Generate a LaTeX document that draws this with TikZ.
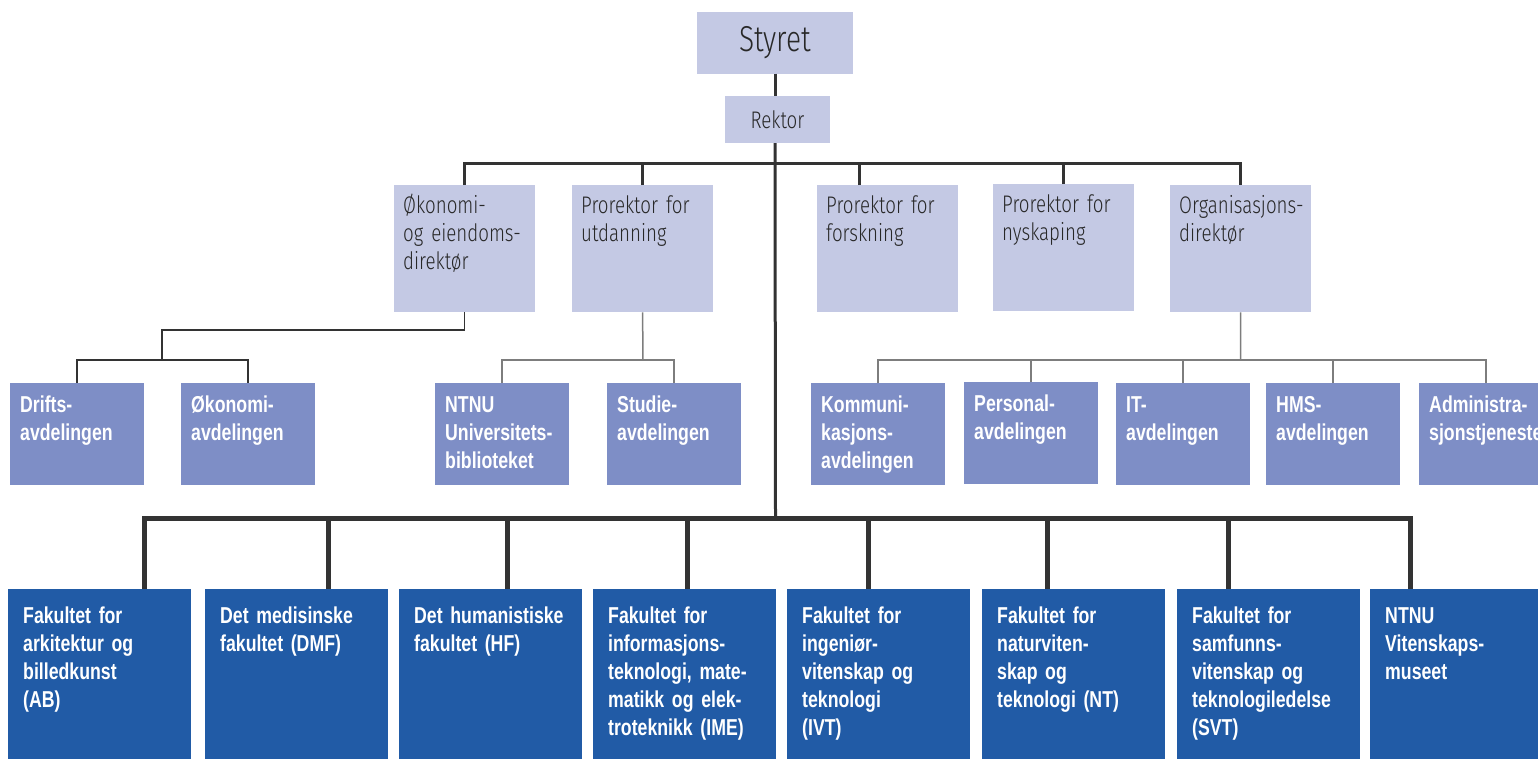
\documentclass[tikz,border=0pt]{standalone}
\usepackage{fontspec}
\setmainfont{Liberation Sans}
\newfontfamily\lightfont{Fira Sans Light}[FakeStretch=0.78]
\newfontfamily\boldfont{Liberation Sans Bold}[FakeStretch=0.77, WordSpace=0.75]
\definecolor{lightbox}{RGB}{196,201,228}
\definecolor{midbox}{RGB}{126,142,198}
\definecolor{darkbox}{RGB}{33,91,166}
\definecolor{linedark}{RGB}{51,51,51}
\definecolor{linegray}{RGB}{125,125,125}
\definecolor{txtdark}{RGB}{40,40,40}
\tikzset{
  lbox/.style={fill=lightbox, draw=none, inner sep=0pt, anchor=north west, minimum width=141pt, minimum height=127pt},
  mbox/.style={fill=midbox, draw=none, inner sep=0pt, anchor=north west, minimum width=134pt, minimum height=102pt},
  dbox/.style={fill=darkbox, draw=none, inner sep=0pt, anchor=north west, minimum width=183pt, minimum height=200pt},
  ltxt/.style={inner sep=0pt, anchor=base west, text width=200pt, align=left, text=txtdark, font=\lightfont\fontsize{24}{28}\selectfont},
  btxt/.style={inner sep=0pt, anchor=base west, text width=200pt, align=left, text=white, font=\boldfont\fontsize{23}{28}\selectfont},
  mainline/.style={draw=linedark, line width=3pt},
  busline/.style={draw=linedark, line width=5pt},
  subdark/.style={draw=linedark, line width=1.5pt},
  subgray/.style={draw=linegray, line width=1.5pt},
}
\begin{document}
\begin{tikzpicture}[x=1pt,y=-1pt]
\useasboundingbox (0,0) rectangle (1538,758);
\clip (0,0) rectangle (1538,758);
% top
\node[fill=lightbox, inner sep=0pt, minimum width=156pt, minimum height=62pt, text=txtdark, font=\lightfont\fontsize{36}{40}\selectfont] (styret) at (775,42.5) {Styret};
\node[fill=lightbox, inner sep=0pt, minimum width=105pt, minimum height=47pt, text=txtdark, font=\lightfont\fontsize{24}{28}\selectfont] (rektor) at (777.5,119.5) {Rektor};
% level 2
\node[lbox] (oko) at (394,185) {};
\node[lbox] (utd) at (572,185) {};
\node[lbox] (fors) at (817,185) {};
\node[lbox] (nysk) at (993,184) {};
\node[lbox] (org) at (1170,185) {};
\node[ltxt] (okot) at ([shift={(9,28)}]oko.north west) {Økonomi-\\og eiendoms-\\direktør};
\node[ltxt] (utdt) at ([shift={(9,28)}]utd.north west) {Prorektor for\\utdanning};
\node[ltxt] (forst) at ([shift={(9,28)}]fors.north west) {Prorektor for\\forskning};
\node[ltxt] (nyskt) at ([shift={(9,28)}]nysk.north west) {Prorektor for\\nyskaping};
\node[ltxt] (orgt) at ([shift={(9,28)}]org.north west) {Organisasjons-\\direktør};
% level 3
\node[mbox] (drift) at (10,383) {};
\node[mbox] (okoavd) at (181,383) {};
\node[mbox] (ub) at (435,383) {};
\node[mbox] (studie) at (607,383) {};
\node[mbox] (komm) at (811,383) {};
\node[mbox] (pers) at (964,382) {};
\node[mbox] (it) at (1116,383) {};
\node[mbox] (hms) at (1266,383) {};
\node[mbox] (adm) at (1419,383) {};
\node[btxt] (driftt) at ([shift={(10,29)}]drift.north west) {Drifts-\\avdelingen};
\node[btxt] (okoavdt) at ([shift={(10,29)}]okoavd.north west) {Økonomi-\\avdelingen};
\node[btxt] (ubt) at ([shift={(10,29)}]ub.north west) {NTNU\\Universitets-\\biblioteket};
\node[btxt] (studiet) at ([shift={(10,29)}]studie.north west) {Studie-\\avdelingen};
\node[btxt] (kommt) at ([shift={(10,29)}]komm.north west) {Kommuni-\\kasjons-\\avdelingen};
\node[btxt] (perst) at ([shift={(10,29)}]pers.north west) {Personal-\\avdelingen};
\node[btxt] (itt) at ([shift={(10,29)}]it.north west) {IT-\\avdelingen};
\node[btxt] (hmst) at ([shift={(10,29)}]hms.north west) {HMS-\\avdelingen};
\node[btxt] (admt) at ([shift={(10,29)}]adm.north west) {Administra-\\sjonstjenesten};
% faculties
\node[dbox] (f1) at (8,589) {};
\node[dbox] (f2) at (205,589) {};
\node[dbox] (f3) at (399,589) {};
\node[dbox] (f4) at (593,589) {};
\node[dbox] (f5) at (787,589) {};
\node[dbox] (f6) at (982,589) {};
\node[dbox] (f7) at (1177,589) {};
\node[dbox] (f8) at (1370,589) {};
\node[btxt] (f1t) at ([shift={(15,34)}]f1.north west) {Fakultet for\\arkitektur og\\billedkunst\\(AB)};
\node[btxt] (f2t) at ([shift={(15,34)}]f2.north west) {Det medisinske\\fakultet (DMF)};
\node[btxt] (f3t) at ([shift={(15,34)}]f3.north west) {Det humanistiske\\fakultet (HF)};
\node[btxt] (f4t) at ([shift={(15,34)}]f4.north west) {Fakultet for\\informasjons-\\teknologi, mate-\\matikk og elek-\\troteknikk (IME)};
\node[btxt] (f5t) at ([shift={(15,34)}]f5.north west) {Fakultet for\\ingeniør-\\vitenskap og\\teknologi\\(IVT)};
\node[btxt] (f6t) at ([shift={(15,34)}]f6.north west) {Fakultet for\\naturviten-\\skap og\\teknologi (NT)};
\node[btxt] (f7t) at ([shift={(15,34)}]f7.north west) {Fakultet for\\samfunns-\\vitenskap og\\teknologiledelse\\(SVT)};
\node[btxt] (f8t) at ([shift={(15,34)}]f8.north west) {NTNU\\Vitenskaps-\\museet};
% main connectors
\coordinate (topbus) at (775.5,163);
\coordinate (busmid) at (775.5,518);
\draw[mainline] (styret.south) -- (styret.south |- rektor.north);
\draw[mainline] (styret.south |- rektor.south) -- (busmid);
\draw[mainline] (oko.north) |- (topbus) -| (org.north);
\draw[mainline] (utd.north) -- (utd.north |- topbus);
\draw[mainline] ([xshift=-28.5pt]fors.north) -- ([xshift=-28.5pt]fors.north |- topbus);
\draw[mainline] (nysk.north) -- (nysk.north |- topbus);
% faculty bus
\draw[busline] ([xshift=44.5pt]f1.north) |- (busmid) -| ([xshift=-51.5pt]f8.north);
\draw[busline] ([xshift=31.5pt]f2.north) -- ([xshift=31.5pt]f2.north |- busmid);
\draw[busline] ([xshift=16.5pt]f3.north) -- ([xshift=16.5pt]f3.north |- busmid);
\draw[busline] ([xshift=2.5pt]f4.north) -- ([xshift=2.5pt]f4.north |- busmid);
\draw[busline] ([xshift=-10.5pt]f5.north) -- ([xshift=-10.5pt]f5.north |- busmid);
\draw[busline] ([xshift=-26.5pt]f6.north) -- ([xshift=-26.5pt]f6.north |- busmid);
\draw[busline] ([xshift=-40.5pt]f7.north) -- ([xshift=-40.5pt]f7.north |- busmid);
% sub connectors
\coordinate (okoA) at (162,330);
\coordinate (okoB) at (162,360);
\draw[subdark] (oko.south) |- (okoA) -- (okoB);
\draw[subdark] (drift.north) |- (okoB) -| (okoavd.north);
\coordinate (utdB) at (642.8,360);
\draw[subgray] (utd.south) -- (utdB);
\draw[subgray] (ub.north) |- (utdB) -| (studie.north);
\coordinate (orgB) at (1240.5,360);
\draw[subgray] (org.south) -- (orgB);
\draw[subgray] (komm.north) |- (orgB) -| (adm.north);
\draw[subgray] (pers.north) -- (pers.north |- orgB);
\draw[subgray] (it.north) -- (it.north |- orgB);
\draw[subgray] (hms.north) -- (hms.north |- orgB);
\end{tikzpicture}
\end{document}
